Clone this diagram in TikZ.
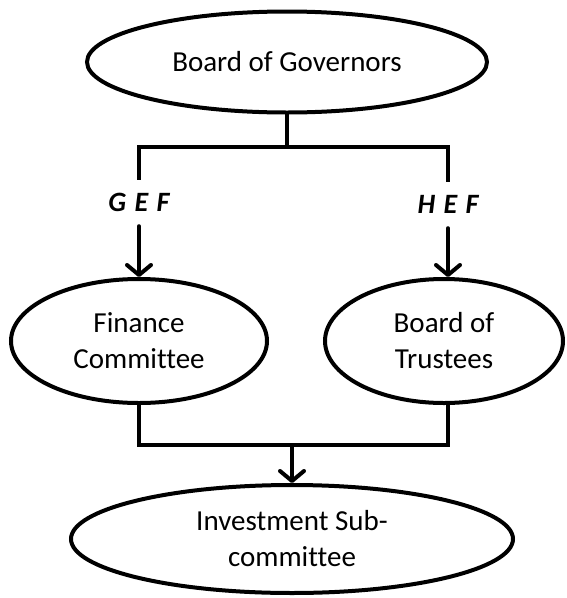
\documentclass[tikz,border=0pt]{standalone}
\usepackage{fontspec}
\setmainfont{Carlito}[Ligatures=NoCommon]
\usetikzlibrary{shapes.geometric}
\usetikzlibrary{arrows.meta}

\tikzset{
  unit/.style={ellipse,draw=black,line width=4pt,inner sep=0pt,align=center,
    font=\fontsize{29}{36}\selectfont},
  tag/.style={inner sep=0pt,minimum height=48pt,
    font=\fontsize{28}{32}\selectfont\bfseries\itshape},
  link/.style={line width=4pt,black,line cap=rect,line join=miter},
  feed/.style={link,line cap=round,-{Straight Barb[length=10pt,width=24pt,line join=round,line cap=round]}}
}
\newcommand{\gap}{\hspace{0.3em}}

\begin{document}
\begin{tikzpicture}[x=1pt,y=-1pt]
    \useasboundingbox (0,0) rectangle (567,598);
    % Ellipses
    \node[unit,minimum width=400pt,minimum height=101pt] (gov) at (287,62) {Board of Governors};
    \node[unit,minimum width=256pt,minimum height=124pt] (fin) at (139,341) {Finance\\Committee};
    \node[unit,minimum width=238pt,minimum height=124pt] (trust) at (444,341) {Board of\\Trustees};
    \node[unit,minimum width=442pt,minimum height=108pt] (inv) at (292,539) {Investment Sub-\\committee};
    % Labels
    \node[tag] (gef) at (139,202) {G\gap E\gap F};
    \node[tag] (hef) at (448,204) {H\gap E\gap F};
    % Top branch
    \coordinate (tl) at (139,147);
    \coordinate (tr) at (448,147);
    \draw[link] (gov.south) -- (gov.south |- tl);
    \draw[link] (gef.north) -- (tl) -- (tr) -- (hef.north);
    \draw[feed] (gef.south) -- (fin.north);
    \draw[feed] (hef.south) -- (hef.south |- trust.north);
    % Bottom branch
    \coordinate (bl) at (139,445);
    \coordinate (br) at (448,445);
    \draw[link] (fin.south) -- (bl) -- (br) -- (br |- trust.south);
    \draw[feed] (bl -| inv.north) -- (inv.north);
\end{tikzpicture}
\end{document}
